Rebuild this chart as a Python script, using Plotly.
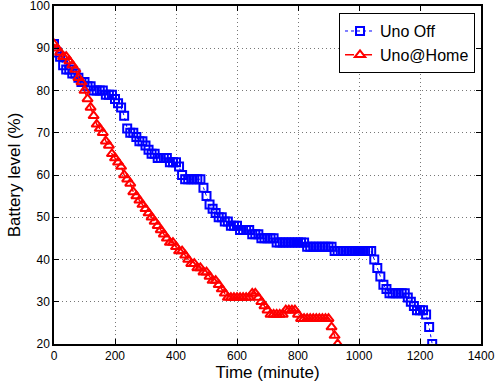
import plotly.graph_objects as go

# Uno Off (blue), sampled every 10 minutes
off_time = list(range(0, 1250, 10))
off_level = [
    91, 89, 88, 86, 85, 85, 84, 84, 83, 82,   # 0-90
    82, 81, 81, 80, 80, 80, 80, 79, 79, 79,   # 100-190
    78, 77, 76, 74, 71, 70, 70, 69, 68, 68,   # 200-290
    67, 66, 65, 65, 64, 64, 64, 64, 63, 63,   # 300-390
    63, 62, 60, 59, 59, 59, 59, 59, 59, 57,   # 400-490
    55, 53, 52, 51, 50, 50, 49, 49, 48, 48,   # 500-590
    48, 47, 47, 47, 47, 46, 46, 46, 45, 45,   # 600-690
    45, 45, 45, 44, 44, 44, 44, 44, 44, 44,   # 700-790
    44, 44, 44, 43, 43, 43, 43, 43, 43, 43,   # 800-890
    43, 43, 42, 42, 42, 42, 42, 42, 42, 42,   # 900-990
    42, 42, 42, 42, 42, 40, 38, 36, 34, 33,   # 1000-1090
    32, 32, 32, 32, 32, 32, 31, 30, 29, 28,   # 1100-1190
    28, 28, 27, 24, 20,                       # 1200-1240
]

# Uno@Home (red), sampled every 10 minutes
home_time = list(range(0, 940, 10))
home_level = [
    91, 90, 89, 88, 88, 87, 86, 85, 83, 82,   # 0-90
    80, 78, 76, 74, 72, 71, 70, 68, 67, 65,   # 100-190
    64, 63, 62, 60, 59, 58, 56, 55, 54, 53,   # 200-290
    52, 51, 50, 49, 48, 47, 46, 45, 44, 44,   # 300-390
    43, 42, 42, 41, 40, 39, 39, 38, 38, 37,   # 400-490
    37, 36, 35, 35, 34, 33, 32, 31, 31, 31,   # 500-590
    31, 31, 31, 31, 31, 32, 32, 31, 30, 29,   # 600-690
    28, 27, 27, 27, 27, 27, 28, 28, 28, 28,   # 700-790
    27, 26, 26, 26, 26, 26, 26, 26, 26, 26,   # 800-890
    26, 24, 22, 20,                           # 900-930
]

x_ticks = [0, 200, 400, 600, 800, 1000, 1200, 1400]
y_ticks = [20, 30, 40, 50, 60, 70, 80, 90, 100]

fig = go.Figure()
fig.add_trace(go.Scatter(
    x=off_time, y=off_level, name="Uno Off", mode="lines+markers",
    line=dict(color="#0000ff", width=1, dash="dot"),
    marker=dict(symbol="square-open", size=8, color="#0000ff", line=dict(width=2, color="#0000ff")),
))
fig.add_trace(go.Scatter(
    x=home_time, y=home_level, name="Uno@Home", mode="lines+markers",
    line=dict(color="#ff0000", width=1.5, dash="dash"),
    marker=dict(symbol="triangle-up-open", size=9, color="#ff0000", line=dict(width=2, color="#ff0000")),
))

axis_common = dict(
    showline=True, linecolor="black", linewidth=1.5, mirror="ticks",
    ticks="inside", ticklen=5, tickcolor="black", tickwidth=1,
    showgrid=True, gridcolor="#777777", griddash="1px,3px", gridwidth=1,
    zeroline=False, tickfont=dict(size=12, color="black"), automargin=False,
    ticklabeloverflow="allow",
)

fig.update_xaxes(range=[0, 1400], tickvals=x_ticks,
                 title=dict(text="Time (minute)", font=dict(size=17, color="black"), standoff=0),
                 **axis_common)
fig.update_yaxes(range=[20, 100], tickvals=y_ticks,
                 title=dict(text="Battery level (%)", font=dict(size=17, color="black"), standoff=5),
                 **axis_common)

fig.update_layout(
    width=495, height=383,
    margin=dict(l=54, r=14, t=6, b=39),
    paper_bgcolor="white", plot_bgcolor="white",
    font=dict(family="Liberation Sans, Arial, sans-serif", color="black"),
    showlegend=True,
    legend=dict(x=0.986, y=0.979, xanchor="right", yanchor="top",
                bgcolor="white", bordercolor="black", borderwidth=1,
                font=dict(size=16, color="black"), tracegroupgap=0, itemwidth=30),
)

fig.write_html("out.html", config={"displayModeBar": False},
               post_script="document.body.style.margin='0';document.body.style.overflow='hidden';")
